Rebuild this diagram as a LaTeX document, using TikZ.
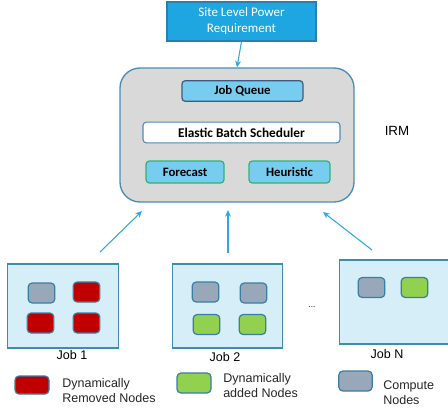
\documentclass[tikz,border=0pt]{standalone}
\usepackage{fontspec}
\setmainfont{Liberation Sans}
\newfontfamily\carlitofont{Carlito}
\usetikzlibrary{arrows.meta}
\definecolor{topblue}{HTML}{1DA6DF}
\definecolor{topedge}{HTML}{2A7FB0}
\definecolor{bigfill}{HTML}{D9D9D9}
\definecolor{bigedge}{HTML}{4A8DB5}
\definecolor{lblue}{HTML}{76CDEF}
\definecolor{jqedge}{HTML}{3F5A7E}
\definecolor{gedge}{HTML}{2DB37A}
\definecolor{jobfill}{HTML}{D5EEF8}
\definecolor{jobedge}{HTML}{3D8DB3}
\definecolor{grayn}{HTML}{98A8B8}
\definecolor{redn}{HTML}{C00000}
\definecolor{greenn}{HTML}{92D050}
\definecolor{nedge}{HTML}{3A7DA6}
\definecolor{arrowc}{HTML}{2FA9DD}
\tikzset{
  inbox/.style={draw, line width=0.9pt, rounded corners=2.5pt, inner sep=0pt, minimum height=15.5pt, font=\carlitofont\bfseries\fontsize{9.6}{11}\selectfont},
  jobbox/.style={draw=jobedge, fill=jobfill, line width=0.8pt, inner sep=0pt, minimum width=83pt, minimum height=63pt},
  cn/.style={draw=nedge, line width=0.9pt, rounded corners=3pt, inner sep=0pt, minimum width=20pt, minimum height=15pt},
  gn/.style={cn, fill=grayn},
  rn/.style={cn, fill=redn},
  an/.style={cn, fill=greenn},
  lab/.style={font=\fontsize{9.4}{11}\selectfont, inner sep=0pt},
  legtext/.style={font=\fontsize{9.4}{11.3}\selectfont, align=left, inner sep=0pt, anchor=west, text=black!85},
  conn/.style={draw=arrowc, line width=0.8pt, -{Stealth[length=5pt,width=4.5pt]}}
}
\begin{document}
\begin{tikzpicture}[x=0.75pt,y=-0.75pt]
\useasboundingbox (0,0) rectangle (448,412);
% top box
\node[draw=topedge, fill=topblue, line width=0.8pt, minimum width=111.75pt, minimum height=29.25pt, inner sep=0pt, text=white, align=center, font=\carlitofont\fontsize{9.8}{12}\selectfont] (site) at (241.5,21.5) {Site Level Power\\Requirement};
% big box
\node[draw=bigedge, fill=bigfill, line width=1pt, rounded corners=15pt, minimum width=175.5pt, minimum height=100.5pt, inner sep=0pt] (irm) at (237,135) {};
\node[font=\fontsize{10}{12}\selectfont, inner sep=0pt] (irmlab) at (397,131) {IRM};
\node[inbox, draw=jqedge, fill=lblue, minimum width=90.75pt] (jq) at (242.5,91) {Job Queue};
\node[inbox, draw=bigedge, fill=white, minimum width=147.75pt, line width=0.8pt, font=\carlitofont\bfseries\fontsize{10}{11}\selectfont] (ebs) at (241.5,132.5) {Elastic Batch Scheduler};
\node[inbox, draw=gedge, fill=lblue, minimum width=58.5pt, minimum height=16.5pt] (fc) at (185,172) {Forecast};
\node[inbox, draw=gedge, fill=lblue, minimum width=60.75pt, minimum height=16.5pt] (he) at (289.5,172) {Heuristic};
\draw[conn] (site.south) -- (irm.north);
% jobs
\node[jobbox] (job1) at (63,306) {};
\node[jobbox] (job2) at (227.5,306) {};
\node[jobbox, minimum width=81.5pt] (jobn) at (393.75,302) {};
\node[lab] (j1l) at (72,355) {Job 1};
\node[lab] (j2l) at (225,357) {Job 2};
\node[lab] (jnl) at (387,354) {Job N};
\node[font=\fontsize{6}{7}\selectfont, inner sep=0pt] (dots) at (312,307) {...};
% job 1 nodes
\node[gn] (a11) at (41.5,293) {};
\node[rn] (a12) at (86.5,292) {};
\node[rn] (a13) at (40.5,323) {};
\node[rn] (a14) at (86.5,323) {};
% job 2 nodes
\node[gn] (b11) at (205.5,292) {};
\node[gn] (b12) at (253.5,293) {};
\node[an] (b13) at (206.5,324.5) {};
\node[an] (b14) at (252.5,324.5) {};
% job N nodes
\node[gn] (c11) at (371.5,287.5) {};
\node[an] (c12) at (414.5,287.5) {};
% arrows from jobs
\coordinate (s1) at (100,252); \coordinate (e1) at (142,211);
\coordinate (s2) at (228,253); \coordinate (e2) at (228,210);
\coordinate (s3) at (372,250); \coordinate (e3) at (323,212);
\draw[conn] (s1) -- (e1);
\draw[conn] (s2) -- (e2);
\draw[conn] (s3) -- (e3);
% legend
\node[rn, minimum width=25.5pt, minimum height=13.5pt] (lr) at (32,385) {};
\node[legtext] (lrt) at (62,390.5) {Dynamically\\Removed Nodes};
\node[an, minimum width=25.5pt, minimum height=15pt] (lg) at (194,383) {};
\node[legtext] (lgt) at (223,385.5) {Dynamically\\added Nodes};
\node[gn, minimum width=25pt, minimum height=15pt] (lgr) at (355.5,381) {};
\node[legtext] (lgrt) at (383,392.5) {Compute\\Nodes};
\end{tikzpicture}
\end{document}
